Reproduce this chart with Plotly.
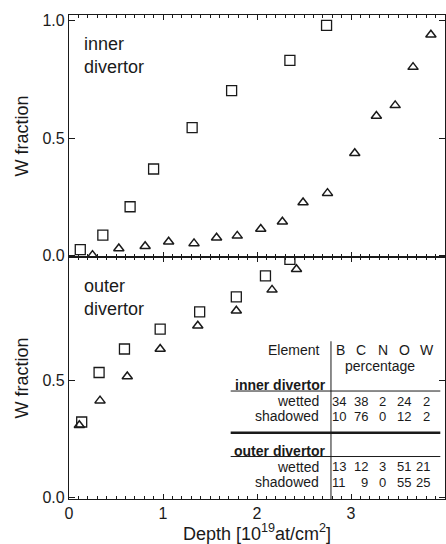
import plotly.graph_objects as go

# ---------------- data ----------------
# inner divertor: W fraction vs depth [1e19 at/cm^2]
inner_wet_depth = [0.12, 0.36, 0.65, 0.90, 1.31, 1.73, 2.35, 2.74]
inner_wet_w = [0.025, 0.087, 0.208, 0.369, 0.545, 0.703, 0.832, 0.981]
inner_sh_depth = [0.25, 0.53, 0.81, 1.06, 1.33, 1.57, 1.79, 2.04, 2.27, 2.49,
                  2.75, 3.04, 3.27, 3.47, 3.66, 3.85]
inner_sh_w = [0.002, 0.030, 0.040, 0.059, 0.052, 0.076, 0.084, 0.113, 0.144, 0.226,
              0.266, 0.436, 0.595, 0.640, 0.803, 0.941]

# outer divertor
outer_wet_depth = [0.135, 0.32, 0.59, 0.97, 1.39, 1.78, 2.09, 2.35]
outer_wet_w = [0.322, 0.533, 0.633, 0.718, 0.791, 0.855, 0.945, 1.015]
outer_sh_depth = [0.11, 0.33, 0.62, 0.97, 1.37, 1.78, 2.16, 2.42]
outer_sh_w = [0.308, 0.413, 0.516, 0.633, 0.732, 0.796, 0.885, 0.973]

# surface composition table (percentage)
elements = ["B", "C", "N", "O", "W"]
row_labels = ["wetted", "shadowed"]
inner_comp = [[34, 38, 2, 24, 2], [10, 76, 0, 12, 2]]
outer_comp = [[13, 12, 3, 51, 21], [11, 9, 0, 55, 25]]

x_ticks = [0, 1, 2, 3, 4]
y_ticks_top = [0.0, 0.5, 1.0]
y_ticks_bot = [0.0, 0.5]

# ---------------- figure ----------------
FONT = "Liberation Sans, Arial, sans-serif"
BLACK = "#1a1a1a"

fig = go.Figure()

sq = dict(symbol="square-open", size=10, color=BLACK, line=dict(width=1.3, color=BLACK))
tri = dict(symbol="triangle-up-open", size=9, color=BLACK, line=dict(width=1.5, color=BLACK))

fig.add_trace(go.Scatter(x=inner_wet_depth, y=inner_wet_w, mode="markers", marker=sq,
                         xaxis="x", yaxis="y", showlegend=False))
fig.add_trace(go.Scatter(x=inner_sh_depth, y=inner_sh_w, mode="markers", marker=tri,
                         xaxis="x", yaxis="y", showlegend=False))
fig.add_trace(go.Scatter(x=outer_wet_depth, y=outer_wet_w, mode="markers", marker=sq,
                         xaxis="x2", yaxis="y2", showlegend=False))
fig.add_trace(go.Scatter(x=outer_sh_depth, y=outer_sh_w, mode="markers", marker=tri,
                         xaxis="x2", yaxis="y2", showlegend=False))

YR = [-0.006, 1.025]

common_x = dict(range=[0, 4], tickvals=x_ticks, ticks="inside", ticklen=5, tickwidth=1.2,
                tickcolor=BLACK, showline=True, linecolor=BLACK, linewidth=1.3,
                mirror="ticks", showgrid=False, zeroline=False,
                minor=dict(dtick=0.1, ticks="inside", ticklen=3, tickcolor=BLACK,
                           tickwidth=1, showgrid=False),
                tickfont=dict(family=FONT, size=16, color=BLACK))
common_y = dict(range=YR, ticks="inside", ticklen=6, tickwidth=1.2, tickcolor=BLACK,
                showline=True, linecolor=BLACK, linewidth=1.3, mirror="ticks",
                showgrid=False, zeroline=False, tickformat=".1f",
                tickfont=dict(family=FONT, size=16, color=BLACK),
                title=dict(text="W fraction", font=dict(family=FONT, size=18, color=BLACK),
                           standoff=9))

fig.update_layout(
    width=446, height=544,
    margin=dict(l=69, r=1, t=15, b=45),
    paper_bgcolor="white", plot_bgcolor="white",
    font=dict(family=FONT, color=BLACK),
    xaxis=dict(common_x, domain=[0, 1], anchor="y", showticklabels=False),
    yaxis=dict(common_y, domain=[0.5, 1], anchor="x", tickvals=y_ticks_top),
    xaxis2=dict(common_x, domain=[0, 1], anchor="y2", matches="x",
                title=dict(text="Depth [10<sup>19</sup>at/cm<sup>2</sup>]",
                           font=dict(family=FONT, size=18, color=BLACK), standoff=2)),
    yaxis2=dict(common_y, domain=[0, 0.5], anchor="x2", tickvals=y_ticks_bot),
)

# panel labels
for txt_, xr, yr in [("inner<br>divertor", "x domain", "y domain"),
                     ("outer<br>divertor", "x2 domain", "y2 domain")]:
    fig.add_annotation(text=txt_, xref=xr, yref=yr, x=0.035, y=0.93,
                       xanchor="left", yanchor="top", showarrow=False, align="left",
                       font=dict(family=FONT, size=18, color=BLACK))

# ---------------- composition table (bottom panel data coords) ----------------
TF = dict(family=FONT, size=14, color=BLACK)
NF = dict(family=FONT, size=13, color=BLACK)
col_x = [2.883, 3.106, 3.337, 3.567, 3.805]     # centres of header letters
num_right = [2.965, 3.205, 3.397, 3.66, 3.862]  # right edges of numbers
label_right = 2.68
sep_x = 2.787
line_x0, line_x1 = 1.72, 3.95


def txt(s, x, y, anchor="right", font=TF):
    fig.add_annotation(text=s, x=x, y=y, xref="x2", yref="y2", xanchor=anchor,
                       yanchor="middle", showarrow=False, font=font)


txt("Element", label_right, 0.628)
for e, cx in zip(elements, col_x):
    txt(e, cx, 0.628, anchor="center")
txt("percentage", 3.31, 0.562, anchor="center")

bold = dict(TF, weight="bold")
txt("inner divertor", 2.755, 0.479, font=bold)
txt("outer divertor", 2.755, 0.200, font=bold)

for block, ys in [(inner_comp, [0.410, 0.346]), (outer_comp, [0.132, 0.065])]:
    for lab, vals, yy in zip(row_labels, block, ys):
        txt(lab, label_right, yy)
        for v, xr in zip(vals, num_right):
            txt(str(v), xr, yy, font=NF)

# table rules
fig.add_shape(type="line", xref="x2", yref="y2", x0=sep_x, x1=sep_x, y0=0.666, y1=YR[0],
              line=dict(color=BLACK, width=1))
for yy, w in [(0.454, 1), (0.276, 2.5), (0.175, 1)]:
    fig.add_shape(type="line", xref="x2", yref="y2", x0=line_x0, x1=line_x1, y0=yy, y1=yy,
                  line=dict(color=BLACK, width=w))

fig.write_html("out.html")
